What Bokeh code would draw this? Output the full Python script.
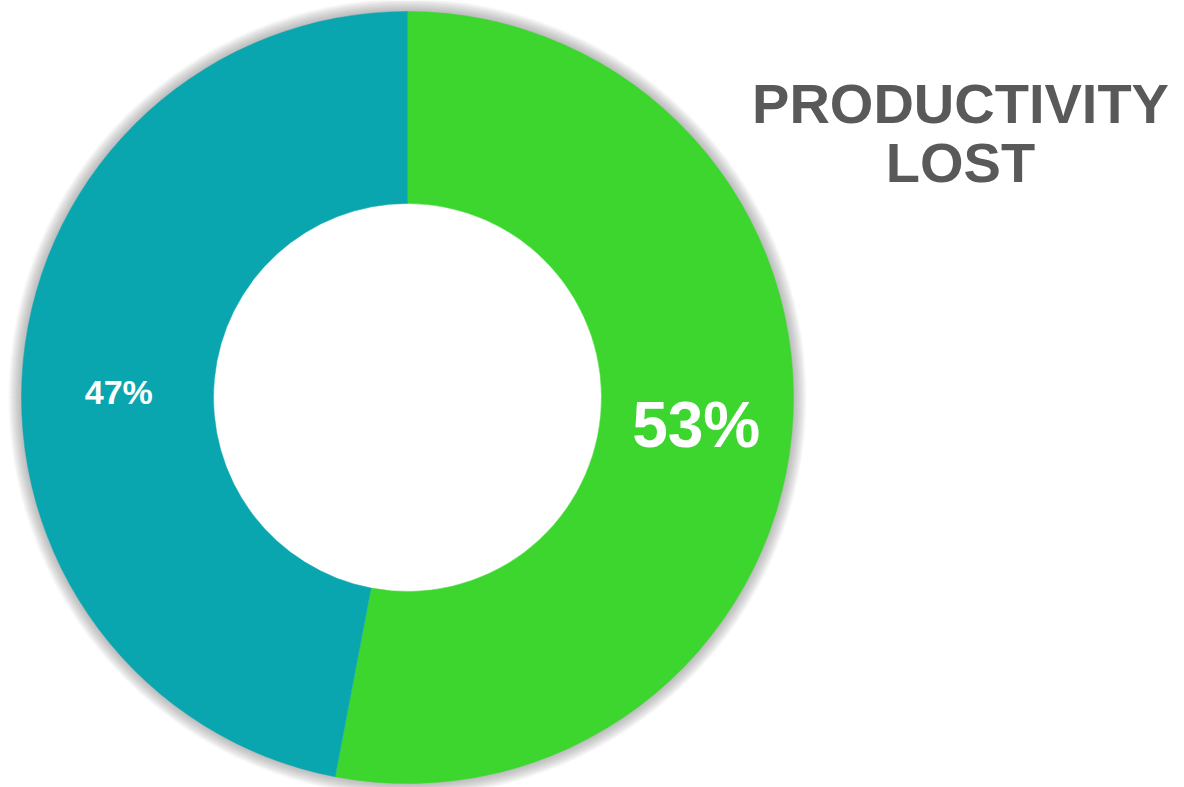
import math
from bokeh.plotting import figure
from bokeh.models import Range1d, ColumnDataSource
from bokeh.core.properties import value
from bokeh.embed import file_html
from bokeh.resources import INLINE

# Data
categories = ["Productivity lost", "Other"]
values = [53, 47]
colors = ["#3CD62F", "#0AA6B0"]
labels = ["53%", "47%"]
label_sizes = ["64px", "34px"]
title_lines = ["PRODUCTIVITY", "LOST"]

W, H = 1184, 787
cx, cy = 407, H - 397
r_out, r_in = 386, 194

p = figure(width=W, height=H, output_backend="svg", toolbar_location=None,
           x_range=Range1d(0, W), y_range=Range1d(0, H), min_border=0)
p.axis.visible = False
p.grid.visible = False
p.outline_line_color = None
p.background_fill_color = "white"
p.border_fill_color = "white"

# soft shadow around the ring
for k in range(1, 14):
    p.annulus(x=[cx], y=[cy], inner_radius=r_out - 2, outer_radius=r_out + k,
              fill_color="#7a7a7a", fill_alpha=0.045, line_color=None)

total = float(sum(values))
start = math.pi / 2
starts, ends, mids = [], [], []
for v in values:
    sweep = 2 * math.pi * v / total
    starts.append(start)
    ends.append(start - sweep)
    mids.append(start - sweep / 2)
    start -= sweep

src = ColumnDataSource(dict(start=starts, end=ends, color=colors, cat=categories))
p.annular_wedge(x=cx, y=cy, inner_radius=r_in, outer_radius=r_out,
                start_angle="start", end_angle="end", direction="clock",
                fill_color="color", line_color="color", line_width=0.5, source=src)

r_mid = (r_in + r_out) / 2
nudge = [0, -22]  # small vertical nudges of label placement
for lab, m, fs, dy in zip(labels, mids, label_sizes, nudge):
    p.text(x=[cx + r_mid * math.cos(m)], y=[cy + r_mid * math.sin(m) + dy], text=[lab],
           text_color="white", text_font=value("Liberation Sans"), text_font_style="bold",
           text_font_size=fs, text_align="center", text_baseline="middle")

p.text(x=[960, 960], y=[H - 103, H - 162], text=title_lines,
       text_color="#595959", text_font=value("Liberation Sans"), text_font_style="bold",
       text_font_size="56px", text_align="center", text_baseline="middle")

open("out.html", "w").write(file_html(p, INLINE))
